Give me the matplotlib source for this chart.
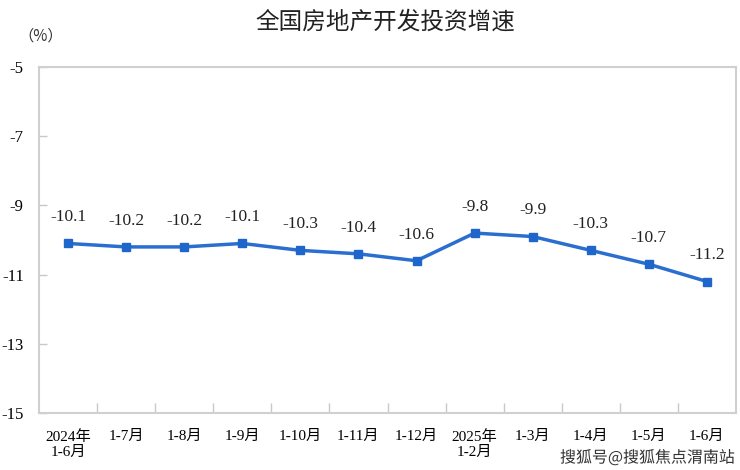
import matplotlib
matplotlib.use('Agg')
import matplotlib.pyplot as plt
import matplotlib.patheffects as pe

plt.rcParams['font.family'] = ['Liberation Serif', 'Noto Sans CJK SC']

months = ['2024年\n1-6月', '1-7月', '1-8月', '1-9月', '1-10月', '1-11月', '1-12月',
          '2025年\n1-2月', '1-3月', '1-4月', '1-5月', '1-6月']
growth = [-10.1, -10.2, -10.2, -10.1, -10.3, -10.4, -10.6, -9.8, -9.9, -10.3, -10.7, -11.2]
yticks = [-5, -7, -9, -11, -13, -15]

fig = plt.figure(figsize=(7.4, 4.7), dpi=100)
ax = fig.add_axes([39 / 740, 1 - 413 / 470, 697 / 740, 346 / 470])

x = list(range(len(months)))
ax.plot(x, growth, color='#2a6fcf', linewidth=2.5, marker='s', markersize=6,
        markerfacecolor='#1f66cc', markeredgecolor='#1f66cc')

# 数据标签
for xi, v in zip(x, growth):
    ax.annotate('%.1f' % v, (xi, v), xytext=(0, 13), textcoords='offset points',
                ha='center', va='bottom', fontsize=12.5, color='#222222',
                family=['Liberation Serif'])

ax.set_xlim(-0.5, len(months) - 0.5)
ax.set_ylim(-15, -5)
ax.set_yticks(yticks)
ax.set_yticklabels([str(t) for t in yticks], fontsize=12)
ax.set_xticks(x)
ax.set_xticklabels(months, fontsize=11, linespacing=1.25)
ax.tick_params(axis='x', length=0, pad=12)
ax.set_xticks([i + 0.5 for i in x[:-1]], minor=True)
ax.tick_params(axis='x', which='minor', direction='in', length=7, color='#c8c8c8', width=1)
ax.tick_params(axis='y', direction='in', length=6, color='#c8c8c8', width=1, pad=11)

for s in ax.spines.values():
    s.set_color('#d0d0d0')
    s.set_linewidth(1.5)

fig.text(385 / 740, 1 - 22 / 470, '全国房地产开发投资增速', ha='center', va='center',
         fontsize=17, family=['Noto Sans CJK SC'], color='#222222', weight='medium')
fig.text(18 / 740, 1 - 36 / 470, '（%）', ha='left', va='center', fontsize=11,
         family=['Noto Sans CJK SC'], color='#333333')

fig.text(735 / 740, 1 - 458 / 470, '搜狐号@搜狐焦点渭南站', ha='right', va='center',
         fontsize=11.5, family=['Noto Sans CJK SC'], color='#333333',
         path_effects=[pe.withStroke(linewidth=2.5, foreground='white')])

fig.savefig('out.png', dpi=100)
